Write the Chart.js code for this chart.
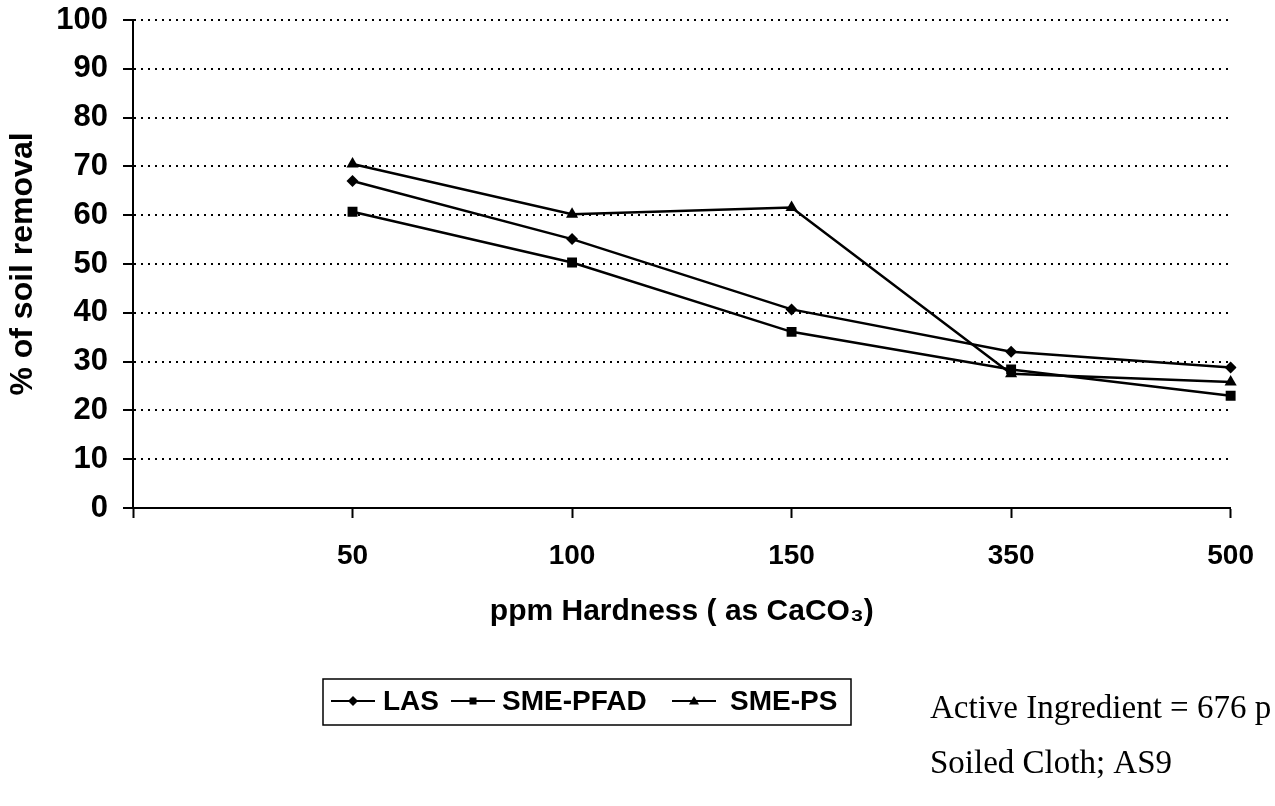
<!DOCTYPE html>
<html>
<head>
<meta charset="utf-8">
<script src="https://cdn.jsdelivr.net/npm/chart.js@4/dist/chart.umd.min.js"></script>
<style>
  html, body { margin: 0; padding: 0; background: #fff; }
  #wrap { width: 1275px; height: 806px; position: relative; }
</style>
</head>
<body>
<div id="wrap"><canvas id="soilChart"></canvas></div>
<script>
// x categories (first one is the empty slot at the y axis)
const hardness = ['', '50', '100', '150', '350', '500'];

// % of soil removal
const lasValues = [null, 67.0, 55.1, 40.7, 32.0, 28.8];
const pfadValues = [null, 60.7, 50.3, 36.1, 28.4, 23.0];
const psValues = [null, 70.5, 60.2, 61.6, 27.5, 25.8];

const seriesNames = ['LAS', 'SME-PFAD', 'SME-PS'];
const seriesMarkers = ['rectRot', 'rect', 'triangle'];
const yTicks = [0, 10, 20, 30, 40, 50, 60, 70, 80, 90, 100];

const noteLines = ['Active Ingredient = 676 p', 'Soiled Cloth; AS9'];

const markerRadius = { rectRot: 6, rect: 7, triangle: 7 };

function drawMarker(ctx, style, x, y, r) {
    ctx.beginPath();
    if (style === 'rectRot') {
        ctx.moveTo(x, y - r);
        ctx.lineTo(x + r, y);
        ctx.lineTo(x, y + r);
        ctx.lineTo(x - r, y);
    } else if (style === 'rect') {
        ctx.rect(x - r * 0.7, y - r * 0.7, r * 1.4, r * 1.4);
    } else {
        ctx.moveTo(x, y - r);
        ctx.lineTo(x + r, y + r * 0.7);
        ctx.lineTo(x - r, y + r * 0.7);
    }
    ctx.closePath();
    ctx.fill();
}

// boxed legend + notes under the plot
const extrasPlugin = {
    id: 'extras',
    afterDraw(chart) {
        const ctx = chart.ctx;
        ctx.save();

        ctx.strokeStyle = '#000';
        ctx.lineWidth = 1.5;
        ctx.strokeRect(323, 679, 528, 46);

        const lineStarts = [331, 451, 672];
        const textStarts = [383, 502, 730];
        ctx.font = 'bold 28px "Liberation Sans", Arial, sans-serif';
        ctx.textBaseline = 'middle';
        ctx.fillStyle = '#000';
        chart.data.datasets.forEach((ds, i) => {
            const y = 701;
            ctx.lineWidth = 2;
            ctx.beginPath();
            ctx.moveTo(lineStarts[i], y);
            ctx.lineTo(lineStarts[i] + 44, y);
            ctx.stroke();
            drawMarker(ctx, ds.pointStyle, lineStarts[i] + 22, y, 5);
            ctx.fillText(ds.label, textStarts[i], y + 1);
        });

        ctx.font = '33px "Liberation Serif", "Times New Roman", serif';
        ctx.textBaseline = 'alphabetic';
        ctx.fillText(noteLines[0], 930, 718);
        ctx.fillText(noteLines[1], 930, 773);

        ctx.restore();
    }
};

const lineColor = '#000';
const seriesData = [lasValues, pfadValues, psValues];

const datasets = seriesNames.map((name, i) => ({
    label: name,
    data: seriesData[i],
    borderColor: lineColor,
    backgroundColor: lineColor,
    borderWidth: 2.5,
    pointStyle: seriesMarkers[i],
    pointRadius: markerRadius[seriesMarkers[i]],
    pointBorderWidth: 0,
    tension: 0,
    spanGaps: false
}));

new Chart(document.getElementById('soilChart'), {
    type: 'line',
    data: { labels: hardness, datasets: datasets },
    plugins: [extrasPlugin],
    options: {
        responsive: true,
        maintainAspectRatio: false,
        animation: false,
        layout: { padding: { left: 0, right: 42, top: 20, bottom: 172 } },
        plugins: {
            legend: { display: false },
            tooltip: { enabled: false }
        },
        scales: {
            x: {
                type: 'category',
                offset: false,
                afterFit: scale => { scale.height = 126; },
                grid: {
                    drawOnChartArea: false,
                    drawTicks: true,
                    tickLength: 10,
                    tickWidth: 2,
                    tickColor: '#000',
                    tickBorderDash: []
                },
                border: { display: true, color: '#000', width: 2 },
                ticks: {
                    color: '#000',
                    padding: 21,
                    maxRotation: 0,
                    autoSkip: false,
                    font: { family: '"Liberation Sans", Arial, sans-serif', size: 28, weight: 'bold' }
                },
                title: {
                    display: true,
                    text: 'ppm Hardness ( as CaCO\u2083)',
                    color: '#000',
                    font: { family: '"Liberation Sans", Arial, sans-serif', size: 30, weight: 'bold' }
                }
            },
            y: {
                min: 0,
                max: 100,
                afterFit: scale => {
                    scale.width = 133;
                    scale.paddingTop = 0;
                    scale.paddingBottom = 0;
                },
                afterBuildTicks: scale => { scale.ticks = yTicks.map(v => ({ value: v })); },
                grid: {
                    color: '#000',
                    lineWidth: 2,
                    drawTicks: true,
                    tickLength: 10,
                    tickWidth: 2,
                    tickColor: '#000',
                    tickBorderDash: []
                },
                border: { display: true, color: '#000', width: 2, dash: [2, 5] },
                ticks: {
                    color: '#000',
                    padding: 15,
                    font: { family: '"Liberation Sans", Arial, sans-serif', size: 31, weight: 'bold' }
                },
                title: {
                    display: true,
                    text: '% of soil removal',
                    color: '#000',
                    font: { family: '"Liberation Sans", Arial, sans-serif', size: 32, weight: 'bold' }
                }
            }
        }
    }
});
</script>
</body>
</html>
